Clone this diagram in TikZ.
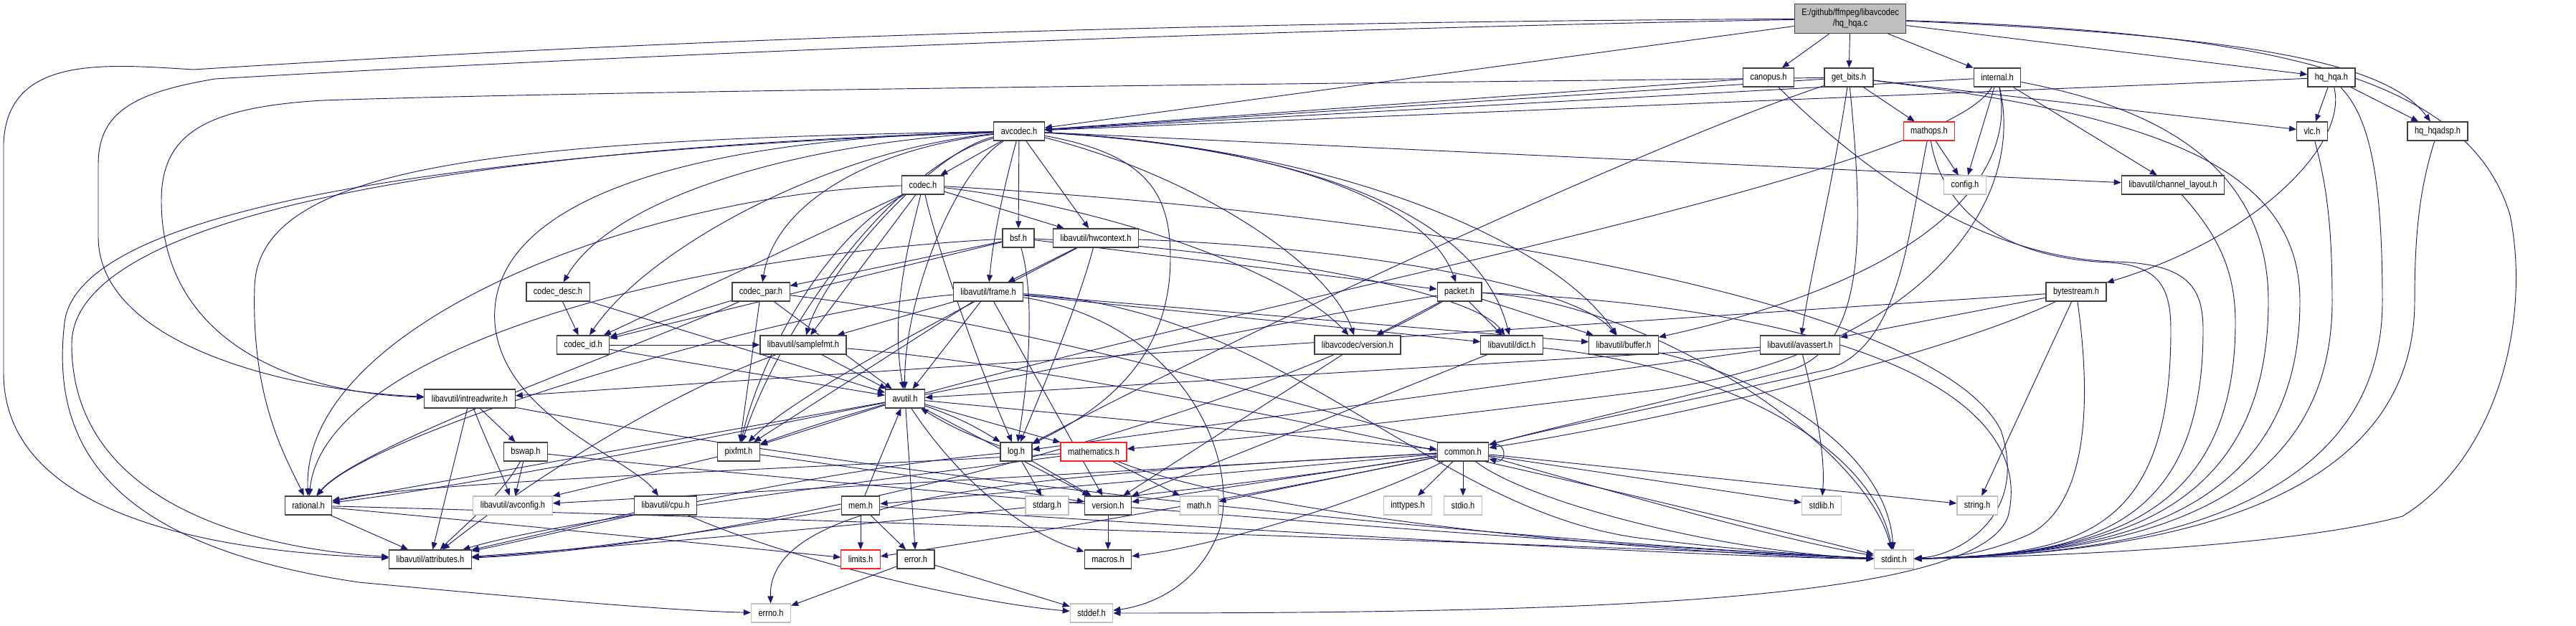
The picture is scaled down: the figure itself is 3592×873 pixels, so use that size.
\documentclass[tikz,border=0pt]{standalone}
\usepackage{fontspec}
\newfontfamily\lbl{Liberation Sans}[FakeStretch=0.85]
\usetikzlibrary{arrows.meta}
\definecolor{edgecol}{HTML}{191970}
\definecolor{grayb}{HTML}{BFBFBF}
\definecolor{boxb}{HTML}{404040}
\definecolor{redb}{HTML}{FF2020}
\pgfdeclarelayer{back}
\pgfdeclarelayer{bg}
\pgfsetlayers{back,bg,main}
\tikzset{
  nb/.style={draw=boxb, line width=0.9pt, fill=white, font={\lbl\fontsize{9.75pt}{11.25pt}\selectfont},
    minimum height=19.5pt, inner xsep=7.5pt, inner ysep=0pt, anchor=center},
  gb/.style={nb, draw=grayb},
  rb/.style={nb, draw=redb},
  edg/.style={draw=edgecol, line width=0.7pt, -{Triangle[length=7.5pt,width=6pt]}},
}
\begin{document}
\begin{tikzpicture}[x=0.75pt,y=-0.75pt]
\begin{pgfonlayer}{back}
\fill[white] (0,0) rectangle (3592,873);
\end{pgfonlayer}
\useasboundingbox (0,0) rectangle (3592,873);
% rank 0
\node[nb, fill=grayb, align=center, minimum height=30.75pt] (root) at (2580,26) {E:/github/ffmpeg/libavcodec\\/hq\_hqa.c};
% rank 1
\node[nb] (canopus) at (2466,108) {canopus.h};
\node[nb] (getbits) at (2578,108) {get\_bits.h};
\node[nb] (internal) at (2785,108) {internal.h};
\node[nb] (hqhqa) at (3251,108) {hq\_hqa.h};
% rank 2
\node[nb] (avcodec) at (1421,183) {avcodec.h};
\node[rb] (mathops) at (2690,183) {mathops.h};
\node[nb] (vlc) at (3224,183) {vlc.h};
\node[nb] (hqdsp) at (3399,183) {hq\_hqadsp.h};
% rank 3
\node[nb] (codec) at (1287,258) {codec.h};
\node[gb] (config) at (2740,258) {config.h};
\node[nb] (chlayout) at (3030,258) {libavutil/channel\_layout.h};
% rank 4
\node[nb] (bsf) at (1420,332) {bsf.h};
\node[nb] (hwctx) at (1528,332) {libavutil/hwcontext.h};
% rank 5
\node[nb] (codecdesc) at (778,407) {codec\_desc.h};
\node[nb] (codecpar) at (1061,407) {codec\_par.h};
\node[nb] (frame) at (1378,407) {libavutil/frame.h};
\node[nb] (packet) at (2035,407) {packet.h};
\node[nb] (bytestream) at (2895,407) {bytestream.h};
% rank 6
\node[nb] (codecid) at (813,481) {codec\_id.h};
\node[nb] (samplefmt) at (1120,481) {libavutil/samplefmt.h};
\node[nb] (lavcver) at (1893,481) {libavcodec/version.h};
\node[nb] (dict) at (2108,481) {libavutil/dict.h};
\node[nb] (buffer) at (2264,481) {libavutil/buffer.h};
\node[nb] (avassert) at (2510,481) {libavutil/avassert.h};
% rank 7
\node[nb] (intrw) at (655,556) {libavutil/intreadwrite.h};
\node[nb] (avutil) at (1262,556) {avutil.h};
% rank 8
\node[nb] (bswap) at (733,630) {bswap.h};
\node[nb] (pixfmt) at (1030,630) {pixfmt.h};
\node[nb] (log) at (1417,630) {log.h};
\node[rb] (mathem) at (1525,630) {mathematics.h};
\node[nb] (common) at (2040,630) {common.h};
% rank 9
\node[nb] (rational) at (430,705) {rational.h};
\node[gb] (avconfig) at (715,705) {libavutil/avconfig.h};
\node[nb] (cpu) at (928,705) {libavutil/cpu.h};
\node[nb] (mem) at (1200,705) {mem.h};
\node[gb] (stdarg) at (1460,705) {stdarg.h};
\node[nb] (version) at (1545,705) {version.h};
\node[gb] (math) at (1672,705) {math.h};
\node[gb] (inttypes) at (1963,705) {inttypes.h};
\node[gb] (stdio) at (2040,705) {stdio.h};
\node[gb] (stdlib) at (2540,705) {stdlib.h};
\node[gb] (string) at (2757,705) {string.h};
% rank 10
\node[nb] (attributes) at (600,780) {libavutil/attributes.h};
\node[rb] (limits) at (1200,780) {limits.h};
\node[nb] (error) at (1277,780) {error.h};
\node[nb] (macros) at (1545,780) {macros.h};
\node[gb] (stdint) at (2641,780) {stdint.h};
% rank 11
\node[gb] (errno) at (1075,855) {errno.h};
\node[gb] (stddef) at (1522,855) {stddef.h};

\begin{pgfonlayer}{bg}
% root
\draw[edg] (root) -- (canopus);
\draw[edg] (root) -- (getbits);
\draw[edg] (root) -- (internal);
\draw[edg] (root) -- (avcodec);
\draw[edg] (root) -- (hqhqa);
\draw[edg] (root) .. controls (3150,50) and (3330,90) .. (hqdsp);
\draw[edg] (root) .. controls (3150,45) and (3440,100) .. (3500,300) .. controls (3530,450) and (3480,640) .. (3350,720) .. controls (3200,760) and (2900,775) .. (stdint);
\draw[edg] (root) .. controls (1400,32) and (700,70) .. (270,97) .. controls (150,90) and (10,75) .. (5,200) -- (5,520) .. controls (5,720) and (300,770) .. (attributes);
\draw[edg] (root) .. controls (1800,40) and (900,75) .. (300,110) .. controls (180,130) and (137,160) .. (137,230) -- (137,330) .. controls (137,480) and (400,545) .. (intrw);
% canopus
\draw[edg] (canopus) -- (avcodec);
\draw[edg] (canopus) .. controls (2620,260) and (2780,360) .. (2950,365) .. controls (3050,368) and (3072,400) .. (3072,460) .. controls (3072,745) and (2900,774) .. (stdint);
% get_bits
\draw[edg] (getbits) -- (avcodec);
\draw[edg] (getbits) -- (mathops);
\draw[edg] (getbits) -- (vlc);
\draw[edg] (getbits) .. controls (3000,160) and (3207,230) .. (3207,420) .. controls (3207,742) and (2900,773) .. (stdint);
\draw[edg] (getbits) .. controls (2600,330) and (2600,480) .. (2500,515) .. controls (2320,560) and (2150,600) .. (common);
\draw[edg] (getbits) .. controls (2555,260) and (2525,380) .. (avassert);
\draw[edg] (getbits) .. controls (2300,200) and (1700,480) .. (log);
\draw[edg] (getbits) .. controls (2000,115) and (900,125) .. (450,140) .. controls (280,150) and (225,190) .. (225,280) .. controls (225,470) and (400,548) .. (intrw);
% internal
\draw[edg] (internal) -- (avcodec);
\draw[edg] (internal) -- (config);
\draw[edg] (internal) -- (chlayout);
\draw[edg] (internal) .. controls (2950,140) and (3163,200) .. (3163,420) .. controls (3163,742) and (2900,773) .. (stdint);
\draw[edg] (internal) .. controls (2810,230) and (2720,380) .. (buffer);
\draw[edg] (internal) .. controls (2830,300) and (2650,500) .. (2300,545) .. controls (1900,595) and (1700,615) .. (mathem);
\draw[edg] (internal) .. controls (2700,260) and (1500,460) .. (pixfmt);
% hq_hqa
\draw[edg] (hqhqa) -- (avcodec);
\draw[edg] (hqhqa) -- (vlc);
\draw[edg] (hqhqa) -- (hqdsp);
\draw[edg] (hqhqa) .. controls (3275,200) and (3150,330) .. (bytestream);
\draw[edg] (hqhqa) .. controls (3300,160) and (3322,230) .. (3322,420) .. controls (3322,745) and (2900,774) .. (stdint);
% vlc, hq_hqadsp
\draw[edg] (vlc) .. controls (3245,260) and (3252,320) .. (3252,420) .. controls (3252,742) and (2900,773) .. (stdint);
\draw[edg] (hqdsp) .. controls (3375,260) and (3367,320) .. (3367,420) .. controls (3367,745) and (2900,774) .. (stdint);
% mathops
\draw[edg] (mathops) -- (config);
\draw[edg] (mathops) .. controls (2660,330) and (2650,480) .. (2550,515) .. controls (2350,560) and (2150,600) .. (common);
\draw[edg] (mathops) .. controls (2710,300) and (2800,360) .. (2940,366) .. controls (3010,370) and (3027,400) .. (3027,460) .. controls (3027,744) and (2900,773) .. (stdint);
% channel_layout
\draw[edg] (chlayout) .. controls (3095,330) and (3117,380) .. (3117,450) .. controls (3117,742) and (2900,773) .. (stdint);
% bytestream
\draw[edg] (bytestream) -- (string);
\draw[edg] (bytestream) -- (avassert);
\draw[edg] (bytestream) -- (intrw);
\draw[edg] (bytestream) .. controls (2700,500) and (2300,590) .. (common);
\draw[edg] (bytestream) .. controls (2915,550) and (2915,700) .. (2830,745) .. controls (2770,772) and (2720,778) .. (stdint);
% avcodec
\draw[edg] (avcodec) -- (codec);
\draw[edg] (avcodec) -- (bsf);
\draw[edg] (avcodec) -- (hwctx);
\draw[edg] (avcodec) .. controls (1400,260) and (1385,330) .. (frame);
\draw[edg] (avcodec) -- (chlayout);
\draw[edg] (avcodec) .. controls (1750,200) and (1985,270) .. (packet);
\draw[edg] (avcodec) .. controls (1800,205) and (2060,290) .. (dict);
\draw[edg] (avcodec) .. controls (1850,205) and (2160,330) .. (buffer);
\draw[edg] (avcodec) .. controls (1650,240) and (1850,360) .. (lavcver);
\draw[edg] (avcodec) .. controls (1600,215) and (1632,270) .. (1632,360) .. controls (1632,500) and (1540,570) .. (log);
\draw[edg] (avcodec) .. controls (1330,240) and (1260,420) .. (avutil);
\draw[edg] (avcodec) .. controls (1250,230) and (1090,450) .. (pixfmt);
\draw[edg] (avcodec) .. controls (1300,210) and (1150,380) .. (samplefmt);
\draw[edg] (avcodec) .. controls (1100,200) and (850,280) .. (codecdesc);
\draw[edg] (avcodec) .. controls (1200,210) and (1080,290) .. (codecpar);
\draw[edg] (avcodec) .. controls (1150,210) and (900,350) .. (codecid);
\draw[edg] (avcodec) .. controls (900,195) and (680,300) .. (690,450) .. controls (700,580) and (880,640) .. (cpu);
\draw[edg] (avcodec) .. controls (700,195) and (360,230) .. (355,400) .. controls (350,560) and (400,640) .. (rational);
\draw[edg] (avcodec) .. controls (700,205) and (100,290) .. (100,480) .. controls (100,700) and (350,765) .. (attributes);
\draw[edg] (avcodec) .. controls (700,210) and (110,280) .. (90,450) .. controls (70,620) and (150,760) .. (500,812) .. controls (800,840) and (950,852) .. (errno);
% codec
\draw[edg] (codec) -- (hwctx);
\draw[edg] (codec) .. controls (1270,330) and (1240,430) .. (avutil);
\draw[edg] (codec) .. controls (1305,340) and (1360,500) .. (log);
\draw[edg] (codec) .. controls (1550,290) and (1800,380) .. (lavcver);
\draw[edg] (codec) .. controls (2000,300) and (2700,420) .. (2790,600) .. controls (2830,720) and (2730,775) .. (stdint);
\draw[edg] (codec) -- (codecid);
\draw[edg] (codec) -- (samplefmt);
\draw[edg] (codec) .. controls (1150,330) and (1060,500) .. (pixfmt);
\draw[edg] (codec) .. controls (900,270) and (420,450) .. (rational);
% bsf
\draw[edg] (bsf) -- (packet);
\draw[edg] (bsf) .. controls (1700,345) and (2050,400) .. (dict);
\draw[edg] (bsf) .. controls (1445,420) and (1432,540) .. (log);
\draw[edg] (bsf) -- (codecpar);
\draw[edg] (bsf) -- (codecid);
\draw[edg] (bsf) .. controls (900,360) and (450,500) .. (rational);
% hwcontext
\draw[edg] (hwctx) -- (frame);
\draw[edg] (hwctx) .. controls (1505,420) and (1455,540) .. (log);
\draw[edg] (hwctx) .. controls (1900,345) and (2200,400) .. (buffer);
\draw[edg] (hwctx) .. controls (1400,400) and (1120,540) .. (pixfmt);
% frame
\draw[edg] (frame) -- (samplefmt);
\draw[edg] (frame) -- (avutil);
\draw[edg] (frame) -- (pixfmt);
\draw[edg] (frame) -- (version);
\draw[edg] (frame) -- (buffer);
\draw[edg] (frame) -- (dict);
\draw[edg] (frame) .. controls (1650,450) and (1730,640) .. (1700,740) .. controls (1670,820) and (1600,845) .. (stddef);
\draw[edg] (frame) .. controls (1800,430) and (2000,720) .. (2300,752) .. controls (2450,770) and (2560,776) .. (stdint);
\draw[edg] (frame) .. controls (1100,430) and (520,600) .. (rational);
% codec_desc
\draw[edg] (codecdesc) -- (codecid);
\draw[edg] (codecdesc) -- (avutil);
% codec_par
\draw[edg] (codecpar) -- (codecid);
\draw[edg] (codecpar) -- (avutil);
\draw[edg] (codecpar) -- (pixfmt);
\draw[edg] (codecpar) .. controls (900,480) and (500,620) .. (rational);
\draw[edg] (codecpar) .. controls (1600,470) and (2300,720) .. (stdint);
% packet
\draw[edg] (packet) -- (lavcver);
\draw[edg] (packet) -- (dict);
\draw[edg] (packet) -- (buffer);
\draw[edg] (packet) .. controls (2300,420) and (2600,620) .. (stdint);
\draw[edg] (packet) .. controls (2600,430) and (2840,560) .. (2800,720) .. controls (2760,840) and (2200,855) .. (stddef);
\draw[edg] (packet) .. controls (1700,600) and (1000,765) .. (attributes);
\draw[edg] (packet) .. controls (1600,480) and (800,660) .. (rational);
% codec_id
\draw[edg] (codecid) -- (avutil);
\draw[edg] (codecid) -- (samplefmt);
% samplefmt
\draw[edg] (samplefmt) -- (avutil);
\draw[edg] (samplefmt) .. controls (900,560) and (700,700) .. (attributes);
\draw[edg] (samplefmt) .. controls (1600,520) and (2400,720) .. (stdint);
% lavc version, dict, buffer
\draw[edg] (lavcver) -- (version);
\draw[edg] (dict) -- (version);
\draw[edg] (dict) .. controls (2400,510) and (2610,620) .. (stdint);
\draw[edg] (buffer) .. controls (2440,520) and (2630,620) .. (stdint);
% avassert
\draw[edg] (avassert) .. controls (2535,580) and (2545,640) .. (stdlib);
\draw[edg] (avassert) -- (avutil);
\draw[edg] (avassert) -- (log);
% intreadwrite
\draw[edg] (intrw) -- (bswap);
\draw[edg] (intrw) .. controls (680,620) and (700,660) .. (avconfig);
\draw[edg] (intrw) -- (attributes);
\draw[edg] (intrw) .. controls (1300,680) and (2200,760) .. (stdint);
% avutil
\draw[edg] (avutil) -- (common);
\draw[edg] (avutil) -- (error);
\draw[edg] (avutil) -- (rational);
\draw[edg] (avutil) -- (version);
\draw[edg] (avutil) .. controls (1330,660) and (1420,740) .. (macros);
\draw[edg] (avutil) -- (mathem);
\draw[edg] (avutil) to[bend left=6] (log);
\draw[edg] (avutil) -- (pixfmt);
% log
\draw[edg] (log) to[bend left=6] (avutil);
\draw[edg] (log) -- (stdarg);
\draw[edg] (log) -- (version);
\draw[edg] (log) .. controls (1100,660) and (800,740) .. (attributes);
% mathematics
\draw[edg] (mathem) -- (math);
\draw[edg] (mathem) .. controls (1750,720) and (2300,772) .. (stdint);
\draw[edg] (mathem) .. controls (1300,660) and (800,720) .. (attributes);
\draw[edg] (mathem) .. controls (1200,650) and (600,670) .. (rational);
% common
\draw[edg] (common) -- (inttypes);
\draw[edg] (common) -- (stdio);
\draw[edg] (common) -- (stdlib);
\draw[edg] (common) -- (string);
\draw[edg] (common) .. controls (2130,700) and (2400,770) .. (stdint);
\draw[edg] (common) -- (math);
\draw[edg] (common) -- (version);
\draw[edg] (common) .. controls (1900,700) and (1700,760) .. (macros);
\draw[edg] (common) -- (mem);
\draw[edg] (common) .. controls (1700,700) and (1400,750) .. (limits);
\draw[edg] (common) .. controls (1500,660) and (1070,680) .. (errno);
\draw[edg] (common) -- (avconfig);
\draw[edg] (common) .. controls (1600,700) and (900,760) .. (attributes);
\draw[edg] (common.15) .. controls (2102,612) and (2102,648) .. (common.-15);
% mem
\draw[edg] (mem) -- (limits);
\draw[edg] (mem) -- (error);
\draw[edg] (mem) -- (avutil);
\draw[edg] (mem) .. controls (1000,740) and (800,770) .. (attributes);
\draw[edg] (mem) .. controls (1600,730) and (2300,775) .. (stdint);
% leaves-ish
\draw[edg] (error) -- (stddef);
\draw[edg] (error) -- (errno);
\draw[edg] (version) -- (macros);
\draw[edg] (rational) -- (attributes);
\draw[edg] (rational) .. controls (700,730) and (1000,760) .. (limits);
\draw[edg] (rational) .. controls (1000,720) and (2200,760) .. (stdint);
\draw[edg] (pixfmt) -- (avconfig);
\draw[edg] (pixfmt) .. controls (1250,660) and (1450,690) .. (version);
\draw[edg] (bswap) -- (avconfig);
\draw[edg] (bswap) .. controls (700,690) and (640,740) .. (attributes);
\draw[edg] (bswap) .. controls (1300,690) and (2200,760) .. (stdint);
\draw[edg] (cpu) -- (attributes);
\draw[edg] (cpu) .. controls (1100,780) and (1350,840) .. (stddef);
\end{pgfonlayer}
\end{tikzpicture}
\end{document}
